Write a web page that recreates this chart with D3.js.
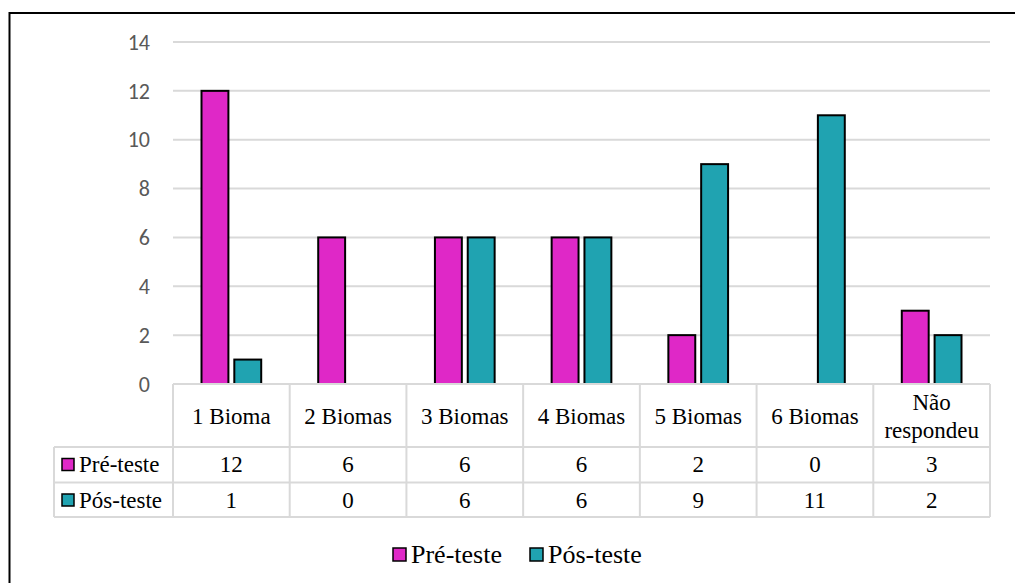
<!DOCTYPE html>
<html>
<head>
<meta charset="utf-8">
<script src="https://cdn.jsdelivr.net/npm/d3@7"></script>
<style>
  html, body { margin: 0; padding: 0; background: #fff; }
  svg { display: block; }
</style>
</head>
<body>
<svg id="chart" width="1015" height="583"></svg>
<script>
// Chart data
const categories = ["1 Bioma", "2 Biomas", "3 Biomas", "4 Biomas", "5 Biomas", "6 Biomas", "Não respondeu"];
const seriesNames = ["Pré-teste", "Pós-teste"];
const preTeste = [12, 6, 6, 6, 2, 0, 3];
const posTeste = [1, 0, 6, 6, 9, 11, 2];
const yTicks = [0, 2, 4, 6, 8, 10, 12, 14];
const seriesColors = ["#DF28C7", "#20A3B1"];

const seriesValues = [preTeste, posTeste];

const svg = d3.select("#chart");
const W = 1015, H = 583;

// Plot geometry
const plot = { left: 173, right: 990, top: 42, bottom: 384 };
const headerBottom = 447;
const rowBottoms = [482.5, 517];
const labelColLeft = 54;
const gridColor = "#D9D9D9";
const SERIF = "Liberation Serif";
const SANS = "Carlito";

// Outer frame
svg.append("rect")
  .attr("x", 9.5).attr("y", 13)
  .attr("width", W + 10).attr("height", H + 10)
  .attr("fill", "none").attr("stroke", "#000").attr("stroke-width", 2);

const x = d3.scaleBand().domain(categories).range([plot.left, plot.right]).padding(0);
const xInner = d3.scaleBand().domain(seriesNames)
  .range([28.5, x.bandwidth() - 28.5]).paddingInner(0.18);
const y = d3.scaleLinear().domain([0, 14]).range([plot.bottom, plot.top]);

// Horizontal gridlines
svg.append("g")
  .selectAll("line")
  .data(yTicks.filter(t => t > 0))
  .join("line")
  .attr("x1", plot.left).attr("x2", plot.right)
  .attr("y1", d => y(d)).attr("y2", d => y(d))
  .attr("stroke", gridColor).attr("stroke-width", 2);

// Y axis tick labels
const yAxis = d3.axisLeft(y).tickValues(yTicks).tickSize(0).tickPadding(0);
const yg = svg.append("g").attr("transform", `translate(150,0)`).call(yAxis);
yg.attr("font-family", SANS).attr("font-size", 22);
yg.select(".domain").remove();
yg.selectAll("text")
  .attr("fill", "#595959").attr("dy", "0.33em");

// Bars
const bars = [];
seriesNames.forEach((s, si) => {
  categories.forEach((c, ci) => {
    const v = seriesValues[si][ci];
    if (v > 0) bars.push({ s, si, c, v });
  });
});
svg.append("g")
  .selectAll("rect")
  .data(bars)
  .join("rect")
  .attr("x", d => x(d.c) + xInner(d.s))
  .attr("y", d => y(d.v))
  .attr("width", xInner.bandwidth())
  .attr("height", d => y(0) - y(d.v))
  .attr("fill", d => seriesColors[d.si])
  .attr("stroke", "#000").attr("stroke-width", 2);

// Data table grid
const tg = svg.append("g").attr("stroke", gridColor).attr("stroke-width", 2).attr("fill", "none");
tg.append("line").attr("x1", plot.left).attr("x2", plot.right).attr("y1", plot.bottom).attr("y2", plot.bottom);
tg.append("line").attr("x1", labelColLeft).attr("x2", plot.right).attr("y1", headerBottom).attr("y2", headerBottom);
rowBottoms.forEach(rb => {
  tg.append("line").attr("x1", labelColLeft).attr("x2", plot.right).attr("y1", rb).attr("y2", rb);
});
const colEdges = categories.map(c => x(c)).concat([plot.right]);
colEdges.forEach(cx => {
  tg.append("line").attr("x1", cx).attr("x2", cx).attr("y1", plot.bottom).attr("y2", rowBottoms[1]);
});
tg.append("line").attr("x1", labelColLeft).attr("x2", labelColLeft).attr("y1", headerBottom).attr("y2", rowBottoms[1]);

// Category header labels
svg.append("g")
  .selectAll("text")
  .data(categories)
  .join("text")
  .attr("font-family", SERIF).attr("font-size", 23)
  .attr("text-anchor", "middle")
  .attr("fill", "#000")
  .each(function (d) {
    const t = d3.select(this);
    const lines = d === "Não respondeu" ? ["Não", "respondeu"] : [d];
    const baselines = lines.length === 2 ? [410, 438] : [423.5];
    lines.forEach((ln, i) => {
      t.append("tspan")
        .attr("x", x(d) + x.bandwidth() / 2)
        .attr("y", baselines[i])
        .text(ln);
    });
  });

// Table rows: legend key, series name, values
const rowBaselines = [471.5, 507.5];
const rowTops = [headerBottom, rowBottoms[0]];
seriesNames.forEach((s, si) => {
  const top = rowTops[si];
  const row = svg.append("g");
  row.append("rect")
    .attr("x", 62).attr("y", top + 11.5)
    .attr("width", 12).attr("height", 12)
    .attr("fill", seriesColors[si]).attr("stroke", "#000").attr("stroke-width", 1.5);
  row.append("text")
    .attr("font-family", SERIF).attr("font-size", 23)
    .attr("x", 79).attr("y", rowBaselines[si])
    .attr("fill", "#000")
    .text(s);
  row.selectAll("text.v")
    .data(seriesValues[si])
    .join("text")
    .attr("class", "v")
    .attr("font-family", SERIF).attr("font-size", 23)
    .attr("x", (d, i) => x(categories[i]) + x.bandwidth() / 2)
    .attr("y", rowBaselines[si])
    .attr("text-anchor", "middle")
    .attr("fill", "#000")
    .text(d => d);
});

// Bottom legend
const legendX = [393, 530];
const lg = svg.append("g");
seriesNames.forEach((s, si) => {
  lg.append("rect")
    .attr("x", legendX[si]).attr("y", 548)
    .attr("width", 13).attr("height", 13)
    .attr("fill", seriesColors[si]).attr("stroke", "#000").attr("stroke-width", 1.5);
  lg.append("text")
    .attr("font-family", SERIF).attr("font-size", 26)
    .attr("x", legendX[si] + 18).attr("y", 563)
    .attr("fill", "#000")
    .text(s);
});
</script>
</body>
</html>
